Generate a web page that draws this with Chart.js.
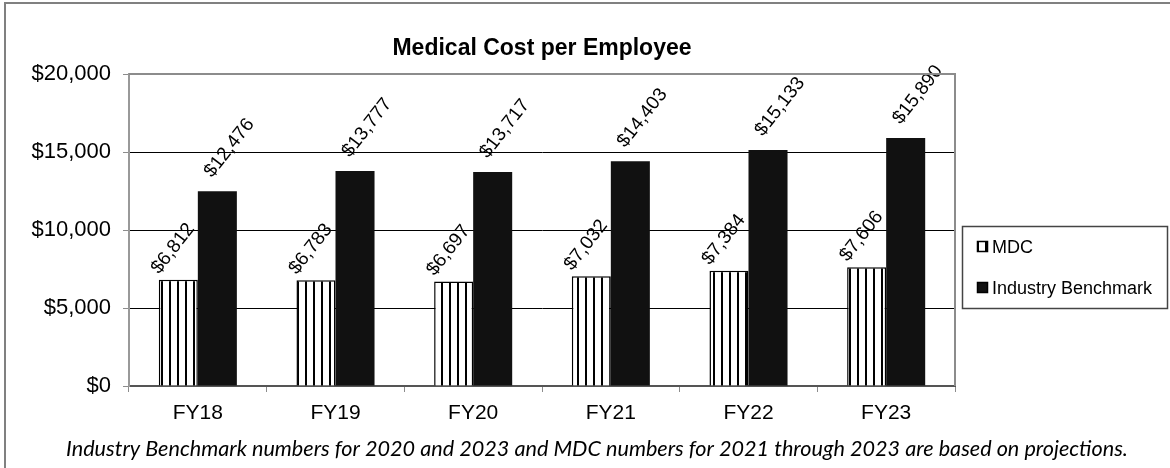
<!DOCTYPE html>
<html lang="en">
<head>
    <meta charset="UTF-8">
    <title>Medical Cost per Employee</title>
    <style>
        body {
            margin: 0;
            padding: 0;
            background-color: #fff;
        }

        .chart-container {
            position: relative;
            width: 1170px;
            height: 468px;
        }
    </style>
    <script src="https://cdn.jsdelivr.net/npm/chart.js"></script>
</head>
<body>
    <div class="chart-container">
        <canvas id="costChart" width="1170" height="468"></canvas>
    </div>

    <script>
        // Datos del gráfico
        const categories = ['FY18', 'FY19', 'FY20', 'FY21', 'FY22', 'FY23'];
        const mdcValues = [6812, 6783, 6697, 7032, 7384, 7606];
        const benchmarkValues = [12476, 13777, 13717, 14403, 15133, 15890];
        const seriesNames = ['MDC', 'Industry Benchmark'];
        const yTicks = [0, 5000, 10000, 15000, 20000];
        const chartTitle = 'Medical Cost per Employee';
        const footnote = 'Industry Benchmark numbers for 2020 and 2023 and MDC numbers for 2021 through 2023 are based on projections.';

        const money = v => '$' + v.toLocaleString('en-US');
        const sans = 'Arial, "Liberation Sans", sans-serif';

        // Patrón de rayas verticales para MDC
        function stripePattern() {
            const c = document.createElement('canvas');
            c.width = 8;
            c.height = 8;
            const p = c.getContext('2d');
            p.fillStyle = '#fff';
            p.fillRect(0, 0, 8, 8);
            p.fillStyle = '#000';
            p.fillRect(1, 0, 2, 8);
            return p.createPattern(c, 'repeat');
        }

        const mdcFill = stripePattern();
        const labelOffsets = [[-19, -5], [-5, -13]];
        const labelAngle = 52 * Math.PI / 180;

        // Título, etiquetas, leyenda, nota y bordes
        const decorations = {
            id: 'decorations',
            afterDatasetsDraw(chart) {
                const ctx = chart.ctx;
                const area = chart.chartArea;

                // etiquetas de datos giradas
                ctx.save();
                ctx.fillStyle = '#000';
                ctx.font = '19px ' + sans;
                ctx.textAlign = 'left';
                ctx.textBaseline = 'alphabetic';
                chart.data.datasets.forEach((ds, i) => {
                    const meta = chart.getDatasetMeta(i);
                    meta.data.forEach((bar, j) => {
                        ctx.save();
                        ctx.translate(bar.x + labelOffsets[i][0], bar.y + labelOffsets[i][1]);
                        ctx.rotate(-labelAngle);
                        ctx.fillText(money(ds.data[j]), 0, 0);
                        ctx.restore();
                    });
                });
                ctx.restore();

                // borde superior y derecho del área
                ctx.save();
                ctx.strokeStyle = '#8c8c8c';
                ctx.lineWidth = 2;
                ctx.beginPath();
                ctx.moveTo(area.left, area.top);
                ctx.lineTo(area.right, area.top);
                ctx.lineTo(area.right, area.bottom);
                ctx.stroke();
                ctx.restore();
            },
            afterDraw(chart) {
                const ctx = chart.ctx;
                const area = chart.chartArea;
                ctx.save();

                // título
                ctx.fillStyle = '#000';
                ctx.font = 'bold 23px ' + sans;
                ctx.textAlign = 'center';
                ctx.textBaseline = 'alphabetic';
                ctx.fillText(chartTitle, (area.left + area.right) / 2, 55);

                // leyenda
                ctx.strokeStyle = '#444';
                ctx.lineWidth = 1.5;
                ctx.strokeRect(962.5, 226.5, 205, 82);
                ctx.font = '18px ' + sans;
                ctx.textAlign = 'left';
                const rows = [253, 294];
                chart.data.datasets.forEach((ds, i) => {
                    const y = rows[i];
                    ctx.fillStyle = ds.backgroundColor;
                    ctx.fillRect(977, y - 12, 11, 11);
                    ctx.strokeStyle = '#000';
                    ctx.lineWidth = 1.5;
                    ctx.strokeRect(977.5, y - 11.5, 10, 10);
                    ctx.fillStyle = '#000';
                    ctx.fillText(ds.label, 992, y);
                });

                // nota al pie
                ctx.font = 'italic 20px Lato, "Open Sans", sans-serif';
                const w = ctx.measureText(footnote).width;
                const size = 20 * 1062 / w;
                ctx.font = 'italic ' + size.toFixed(2) + 'px Lato, "Open Sans", sans-serif';
                ctx.textAlign = 'center';
                ctx.fillText(footnote, 597, 456);

                // borde exterior
                ctx.strokeStyle = '#808080';
                ctx.lineWidth = 2;
                ctx.strokeRect(5, 3, 1180, 480);
                ctx.restore();
            }
        };

        const ctx = document.getElementById('costChart').getContext('2d');
        const costChart = new Chart(ctx, {
            type: 'bar',
            data: {
                labels: categories,
                datasets: [{
                    label: seriesNames[0],
                    data: mdcValues,
                    backgroundColor: mdcFill,
                    borderColor: '#000',
                    borderWidth: 1.5,
                    categoryPercentage: 0.567,
                    barPercentage: 1
                }, {
                    label: seriesNames[1],
                    data: benchmarkValues,
                    backgroundColor: '#111111',
                    borderColor: '#111111',
                    borderWidth: 0,
                    categoryPercentage: 0.567,
                    barPercentage: 1
                }]
            },
            options: {
                responsive: false,
                animation: false,
                devicePixelRatio: 1,
                layout: {
                    padding: { left: 0, top: 74, right: 215, bottom: 0 }
                },
                plugins: {
                    legend: { display: false },
                    title: { display: false },
                    tooltip: { enabled: false }
                },
                scales: {
                    x: {
                        afterFit: s => { s.height = 82; },
                        grid: {
                            offset: true,
                            drawOnChartArea: false,
                            tickLength: 6,
                            tickColor: '#8c8c8c'
                        },
                        border: { color: '#555', width: 2 },
                        ticks: {
                            color: '#000',
                            padding: 9,
                            font: { family: sans, size: 21 }
                        }
                    },
                    y: {
                        min: yTicks[0],
                        max: yTicks[yTicks.length - 1],
                        afterFit: s => { s.width = 129; },
                        afterBuildTicks: s => { s.ticks = yTicks.map(v => ({ value: v })); },
                        grid: {
                            color: c => (c.tick && (c.tick.value === 0 || c.tick.value === 20000)) ? 'rgba(0,0,0,0)' : '#000',
                            lineWidth: 1,
                            tickLength: 6,
                            tickColor: '#8c8c8c'
                        },
                        border: { color: '#999', width: 2 },
                        ticks: {
                            color: '#000',
                            padding: 12,
                            callback: v => money(v),
                            font: { family: sans, size: 22 }
                        }
                    }
                }
            },
            plugins: [decorations]
        });
    </script>
</body>
</html>
